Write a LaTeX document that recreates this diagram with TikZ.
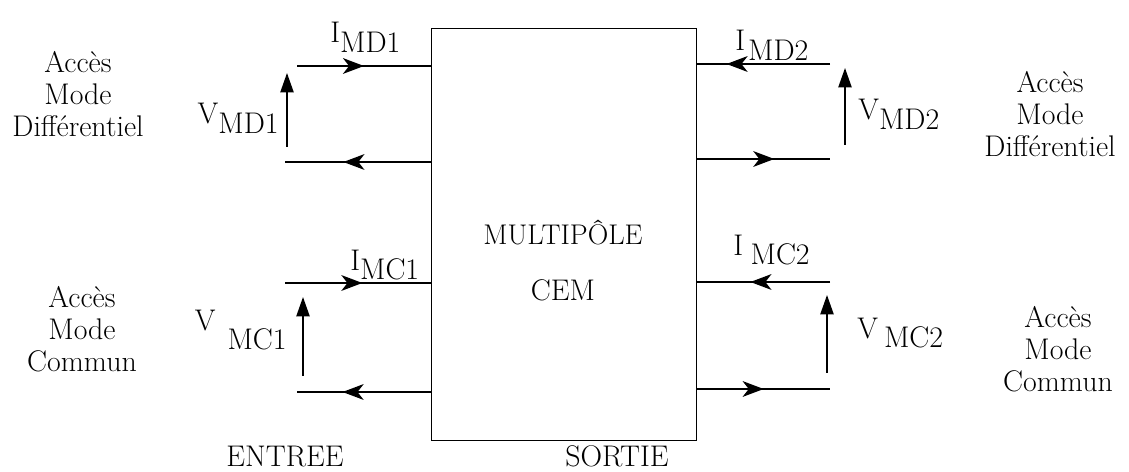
\documentclass[tikz,border=0pt]{standalone}
\usepackage{tikz}
\usetikzlibrary{arrows.meta,decorations.markings}
% lettre surelevee devant l'indice
\newcommand{\indlab}[3][0.75ex]{\raisebox{#1}{#2}#3}

\tikzset{
  wire/.style={line width=0.8pt},
  midarrow/.style={wire, postaction={decorate},
    decoration={markings, mark=at position #1 with {\arrow{Stealth[length=12pt,width=9pt,inset=3.5pt]}}}},
  voltarrow/.style={line width=0.9pt, -{Triangle[length=11pt,width=7.5pt]}},
  lab/.style={font=\fontsize{17}{18.3}\selectfont, inner sep=0pt},
  port/.style={lab, align=center},
}

\begin{document}
\begin{tikzpicture}[x=0.02cm, y=-0.02cm]
    \useasboundingbox (0,0) rectangle (1129,472);

    % bloc central
    \node[draw, wire, anchor=north west, inner sep=0pt,
          minimum width=5.3cm, minimum height=8.24cm] (mp) at (431,28) {};
    \node[lab, font=\fontsize{16.2}{18}\selectfont] (mptitle) at (563,232) {MULTIPÔLE};
    \node[lab] (mpcem) at (563,290) {CEM};

    % extremites libres des fils
    \coordinate (md1a) at (297,66);
    \coordinate (md1b) at (285,162);
    \coordinate (mc1a) at (285,283);
    \coordinate (mc1b) at (297,392);
    \coordinate (md2a) at (830,64);
    \coordinate (md2b) at (830,159);
    \coordinate (mc2a) at (830,282);
    \coordinate (mc2b) at (830,389);

    % cote entree
    \draw[midarrow=0.5]  (md1a) -- (md1a -| mp.west);
    \draw[midarrow=0.6]  (md1b -| mp.west) -- (md1b);
    \draw[midarrow=0.53] (mc1a) -- (mc1a -| mp.west);
    \draw[midarrow=0.66] (mc1b -| mp.west) -- (mc1b);

    % cote sortie
    \draw[midarrow=0.78] (md2a) -- (md2a -| mp.east);
    \draw[midarrow=0.58] (md2b -| mp.east) -- (md2b);
    \draw[midarrow=0.6]  (mc2a) -- (mc2a -| mp.east);
    \draw[midarrow=0.5]  (mc2b -| mp.east) -- (mc2b);

    % tensions
    \coordinate (vmd1s) at (287,147); \coordinate (vmd1e) at (287,73);
    \coordinate (vmc1s) at (303,376); \coordinate (vmc1e) at (303,297);
    \coordinate (vmd2s) at (845,145); \coordinate (vmd2e) at (845,68);
    \coordinate (vmc2s) at (827,373); \coordinate (vmc2e) at (827,295);
    \foreach \s/\e in {vmd1s/vmd1e, vmc1s/vmc1e, vmd2s/vmd2e, vmc2s/vmc2e}{
        \draw[voltarrow] (\s) -- (\e);
    }

    % courants et tensions
    \node[lab, anchor=west] (imd1) at (330,37)  {\indlab{I}{MD1}};
    \node[lab, anchor=east] (vmd1) at (279,118) {\indlab{V}{MD1}};
    \node[lab, anchor=west] (imc1) at (350,265) {\indlab{I}{MC1}};
    \node[lab, anchor=base east] (vmc1) at (287,350) {\indlab[1.5ex]{V}{\hspace{0.4em}MC1}};
    \node[lab, anchor=west] (imd2) at (735,45)  {\indlab{I}{\hspace{0.1em}MD2}};
    \node[lab, anchor=west] (vmd2) at (858,114) {\indlab{V}{MD2}};
    \node[lab, anchor=base west] (imc2) at (733,265) {\indlab{I}{\hspace{0.25em}MC2}};
    \node[lab, anchor=west] (vmc2) at (857,333) {\indlab{V}{\hspace{0.2em}MC2}};

    % acces
    \node[port] (accmd1) at (78,94)    {Accès\\Mode\\Différentiel};
    \node[port] (accmc1) at (82,329)   {Accès\\Mode\\Commun};
    \node[port] (accmd2) at (1050,114) {Accès\\Mode\\Différentiel};
    \node[port] (accmc2) at (1058,349) {Accès\\Mode\\Commun};

    \node[lab] (entree) at (285,457) {ENTREE};
    \node[lab] (sortie) at (617,456) {SORTIE};
\end{tikzpicture}
\end{document}
